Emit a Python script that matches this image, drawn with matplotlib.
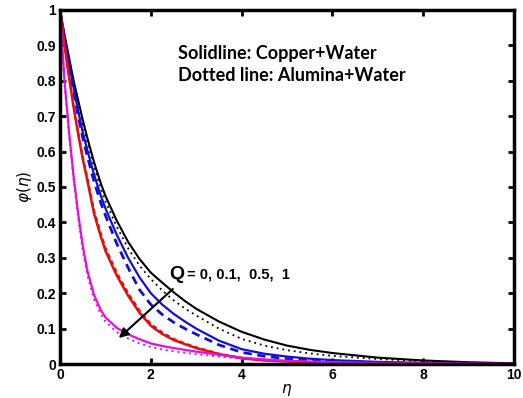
import matplotlib
matplotlib.use('Agg')
import matplotlib.pyplot as plt

# eta grid and profiles
eta = [0, 0.1, 0.2, 0.3, 0.4, 0.5, 0.6, 0.75, 0.9, 1, 1.25, 1.5, 1.75, 2, 2.25, 2.5,
       2.75, 3, 3.5, 4, 4.5, 5, 5.5, 6, 7, 8, 9, 10]

# copper + water (solid), Q = 0, 0.1, 0.5, 1
cu_q0 = [1, 0.93, 0.865, 0.80, 0.745, 0.69, 0.64, 0.57, 0.51, 0.475, 0.405, 0.345, 0.297, 0.258,
         0.23, 0.203, 0.178, 0.156, 0.12, 0.091, 0.069, 0.052, 0.04, 0.031, 0.018, 0.01, 0.005, 0.002]
cu_q01 = [1, 0.92, 0.85, 0.78, 0.715, 0.655, 0.605, 0.535, 0.475, 0.44, 0.365, 0.30, 0.245, 0.20,
          0.168, 0.142, 0.12, 0.10, 0.066, 0.042, 0.029, 0.021, 0.015, 0.011, 0.006, 0.003, 0.001, 0]
cu_q05 = [1, 0.90, 0.81, 0.725, 0.65, 0.58, 0.52, 0.425, 0.36, 0.32, 0.25, 0.193, 0.145, 0.108,
          0.085, 0.068, 0.056, 0.045, 0.028, 0.016, 0.01, 0.007, 0.005, 0.003, 0.001, 0, 0, 0]
cu_q1 = [1, 0.80, 0.655, 0.53, 0.425, 0.335, 0.265, 0.195, 0.152, 0.132, 0.102, 0.084, 0.07, 0.058,
         0.051, 0.045, 0.04, 0.035, 0.026, 0.018, 0.013, 0.009, 0.007, 0.005, 0.003, 0.002, 0.001, 0]

# alumina + water (dotted / dashed)
al_q0 = [1, 0.925, 0.858, 0.792, 0.735, 0.678, 0.627, 0.556, 0.495, 0.46, 0.388, 0.327, 0.278, 0.24,
         0.208, 0.18, 0.157, 0.137, 0.1, 0.071, 0.052, 0.039, 0.03, 0.023, 0.014, 0.008, 0.004, 0.001]
al_q01 = [1, 0.915, 0.842, 0.77, 0.70, 0.64, 0.588, 0.515, 0.455, 0.42, 0.34, 0.272, 0.21, 0.168,
          0.14, 0.118, 0.10, 0.084, 0.054, 0.033, 0.022, 0.015, 0.011, 0.008, 0.004, 0.002, 0.001, 0]
al_q05 = [1, 0.90, 0.812, 0.728, 0.655, 0.585, 0.527, 0.433, 0.368, 0.328, 0.258, 0.2, 0.151, 0.113,
          0.089, 0.071, 0.058, 0.047, 0.029, 0.017, 0.011, 0.008, 0.006, 0.004, 0.002, 0.001, 0, 0]
al_q1 = [1, 0.79, 0.645, 0.52, 0.413, 0.322, 0.252, 0.182, 0.14, 0.12, 0.09, 0.072, 0.058, 0.048,
         0.041, 0.036, 0.032, 0.028, 0.021, 0.015, 0.011, 0.008, 0.006, 0.004, 0.002, 0.001, 0, 0]

xticks = [0, 2, 4, 6, 8, 10]
yticks = [0, 0.1, 0.2, 0.3, 0.4, 0.5, 0.6, 0.7, 0.8, 0.9, 1]
ytick_labels = ['0', '0.1', '0.2', '0.3', '0.4', '0.5', '0.6', '0.7', '0.8', '0.9', '1']

plt.rcParams['font.family'] = ['Liberation Sans', 'DejaVu Sans']

fig = plt.figure(figsize=(5.23, 3.98), dpi=100)
ax = fig.add_axes([0.1147, 0.0854, 0.8683, 0.8896])

ax.plot(eta, cu_q0, color='black', lw=1.5)
ax.plot(eta, al_q0, color='black', lw=1.3, ls=(0, (1, 2.2)))
ax.plot(eta, cu_q01, color='#1010d8', lw=1.6)
ax.plot(eta, al_q01, color='#1010d8', lw=2.0, ls=(0, (3, 2)))
ax.plot(eta, cu_q05, color='#e01010', lw=1.8)
ax.plot(eta, al_q05, color='#e01010', lw=1.6, ls=(0, (2, 1.5)))
ax.plot(eta, cu_q1, color='#e010e0', lw=1.6)
ax.plot(eta, al_q1, color='#e010e0', lw=1.4, ls=(0, (1, 2)))

ax.set_xlim(0, 10)
ax.set_ylim(0, 1)
ax.set_xticks(xticks)
ax.set_xticklabels([str(t) for t in xticks])
ax.set_yticks(yticks)
ax.set_yticklabels(ytick_labels)
ax.tick_params(direction='in', top=True, right=True, length=4, width=2,
               labelsize=10, pad=3)
for lab in ax.get_xticklabels() + ax.get_yticklabels():
    lab.set_fontweight('bold')
for sp in ax.spines.values():
    sp.set_linewidth(2.5)

ax.set_xlabel(r'$\eta$', fontsize=11, labelpad=0)
ax.set_ylabel(r'$\varphi(\eta)$', fontsize=11, labelpad=2)

ax.text(2.6, 0.878, 'Solidline: Copper+Water', fontsize=13, fontweight='bold',
        family=['Lato', 'DejaVu Sans'], va='center')
ax.text(2.6, 0.814, 'Dotted line: Alumina+Water', fontsize=13, fontweight='bold',
        family=['Lato', 'DejaVu Sans'], va='center')

ax.text(2.4, 0.253, 'Q', fontsize=14, fontweight='bold', va='center')
ax.text(2.79, 0.252, '= 0, 0.1,  0.5,  1', fontsize=10.5, fontweight='bold', va='center')
ax.annotate('', xy=(1.25, 0.068), xytext=(2.53, 0.217),
            arrowprops=dict(arrowstyle='-|>', color='black', lw=1.5, mutation_scale=14))

fig.savefig('out.png', dpi=100)
